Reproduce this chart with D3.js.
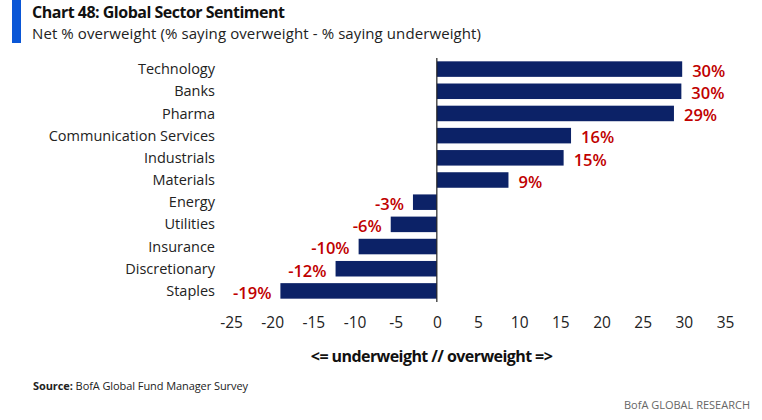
<!DOCTYPE html>
<html lang="en">
<head>
<meta charset="UTF-8">
<title>Global Sector Sentiment</title>
<style>
    html, body { margin: 0; padding: 0; background: #fff; }
    svg { display: block; font-family: "Open Sans", sans-serif; }
</style>
</head>
<body>
<div id="wrapper"></div>
<script src="https://cdn.jsdelivr.net/npm/d3@7"></script>
<script>
    // data
    const sectors = ['Technology', 'Banks', 'Pharma', 'Communication Services', 'Industrials',
        'Materials', 'Energy', 'Utilities', 'Insurance', 'Discretionary', 'Staples'];
    const netOverweight = [29.8, 29.7, 28.8, 16.3, 15.4, 8.7, -2.9, -5.6, -9.5, -12.3, -19];
    const valueLabels = ['30%', '30%', '29%', '16%', '15%', '9%', '-3%', '-6%', '-10%', '-12%', '-19%'];
    const xTicks = [-25, -20, -15, -10, -5, 0, 5, 10, 15, 20, 25, 30, 35];

    const width = 762, height = 420;
    const navy = '#0c2267', red = '#c00000';

    const svg = d3.select('#wrapper').append('svg')
        .attr('width', width)
        .attr('height', height);

    // header
    svg.append('rect')
        .attr('x', 12).attr('y', 0)
        .attr('width', 9).attr('height', 43)
        .attr('fill', '#0a56d6');

    svg.append('text')
        .attr('x', 32).attr('y', 18)
        .attr('font-size', 16).attr('font-weight', 700)
        .attr('fill', '#111')
        .attr('textLength', 253)
        .text('Chart 48: Global Sector Sentiment');

    svg.append('text')
        .attr('x', 32).attr('y', 39)
        .attr('font-size', 15)
        .attr('fill', '#222')
        .attr('textLength', 449)
        .text('Net % overweight (% saying overweight - % saying underweight)');

    // scales
    const x = d3.scaleLinear()
        .domain([-25, 35])
        .range([231, 725]);

    const y = d3.scaleBand()
        .domain(sectors)
        .range([58, 302])
        .paddingInner(0.3)
        .paddingOuter(0.15);

    // bars
    svg.append('g')
        .selectAll('rect')
        .data(sectors)
        .join('rect')
        .attr('x', (d, i) => x(Math.min(0, netOverweight[i])))
        .attr('y', d => y(d))
        .attr('width', (d, i) => Math.abs(x(netOverweight[i]) - x(0)))
        .attr('height', y.bandwidth())
        .attr('fill', navy);

    // zero line
    svg.append('line')
        .attr('x1', x(0)).attr('x2', x(0))
        .attr('y1', 58).attr('y2', 302)
        .attr('stroke', '#222')
        .attr('stroke-width', 1.2);

    // category labels
    svg.append('g')
        .selectAll('text')
        .data(sectors)
        .join('text')
        .attr('x', 215)
        .attr('y', d => y(d) + y.bandwidth() / 2)
        .attr('dy', '0.35em')
        .attr('text-anchor', 'end')
        .attr('font-size', 14.5)
        .attr('fill', '#222')
        .text(d => d);

    // value labels
    svg.append('g')
        .selectAll('text')
        .data(sectors)
        .join('text')
        .attr('x', (d, i) => netOverweight[i] >= 0 ? x(netOverweight[i]) + 10 : x(netOverweight[i]) - 9)
        .attr('y', d => y(d) + y.bandwidth() / 2 + 2)
        .attr('dy', '0.35em')
        .attr('text-anchor', (d, i) => netOverweight[i] >= 0 ? 'start' : 'end')
        .attr('font-size', 16.5)
        .attr('font-weight', 600)
        .attr('fill', red)
        .text((d, i) => valueLabels[i]);

    // x axis (labels only)
    const xAxis = d3.axisBottom(x)
        .tickValues(xTicks)
        .tickFormat(d => String(d))
        .tickSize(0)
        .tickPadding(0);

    const xAxisG = svg.append('g')
        .attr('transform', 'translate(0,317)')
        .call(xAxis);
    xAxisG.select('.domain').remove();
    xAxisG.selectAll('text')
        .attr('font-family', '"Open Sans", sans-serif')
        .attr('font-size', 15.5)
        .attr('fill', '#222');

    svg.append('text')
        .attr('x', x(0) - 5)
        .attr('y', 362)
        .attr('text-anchor', 'middle')
        .attr('font-size', 16)
        .attr('font-weight', 700)
        .attr('fill', '#111')
        .attr('textLength', 242)
        .text('<= underweight // overweight =>');

    // footer
    const src = svg.append('text')
        .attr('x', 33).attr('y', 390)
        .attr('font-size', 11)
        .attr('fill', '#222')
        .attr('textLength', 215);
    src.append('tspan').attr('font-weight', 700).text('Source:');
    src.append('tspan').text(' BofA Global Fund Manager Survey');

    svg.append('text')
        .attr('x', 750).attr('y', 409)
        .attr('text-anchor', 'end')
        .attr('font-size', 11)
        .attr('fill', '#666')
        .text('BofA GLOBAL RESEARCH');
</script>
</body>
</html>
